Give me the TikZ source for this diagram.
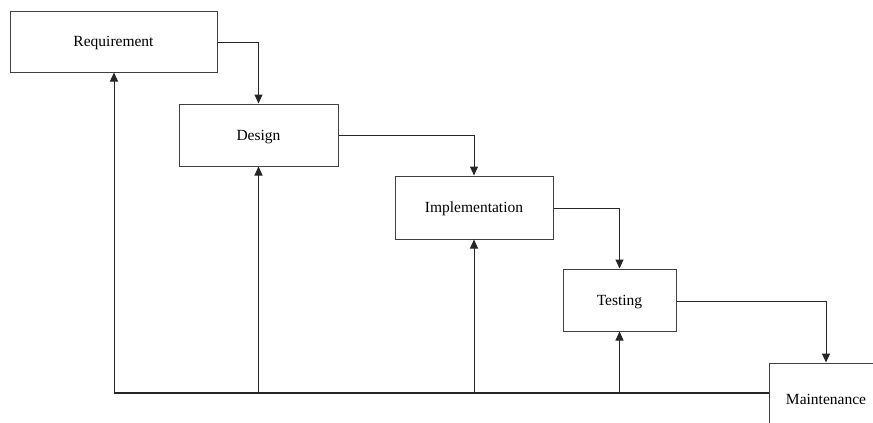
\documentclass[tikz,border=0pt]{standalone}
\usepackage{fontspec}
\setmainfont{Liberation Serif}
\usetikzlibrary{arrows.meta}
\begin{document}
\begin{tikzpicture}[x=1pt,y=-1pt,
  phase/.style={draw=black!75, line width=1pt, fill=white, inner sep=0pt,
    text depth=0pt, font=\fontsize{15.5}{18}\selectfont},
  link/.style={draw=black!85, line width=1pt, -{Triangle[length=9pt,width=8pt]}},
  rail/.style={draw=black!85, line width=1.5pt}]
\useasboundingbox (0,0) rectangle (873,423);
\fill[white] (0,0) rectangle (873,423);

\node[phase, minimum width=207pt, minimum height=61pt] (req)  at (113.5,41.5) {Requirement};
\node[phase, minimum width=159pt, minimum height=62pt] (des)  at (258.5,135) {Design};
\node[phase, minimum width=158pt, minimum height=63pt] (imp)  at (474,207.5) {Implementation};
\node[phase, minimum width=113pt, minimum height=62pt] (tst)  at (619.5,300) {Testing};
\node[phase, minimum width=114pt, minimum height=72pt] (mnt)  at (826,399) {Maintenance};

% forward flow
\draw[link] (req.east |- 0,42) -| (des.north);
\draw[link] (des.east |- 0,135) -| (imp.north);
\draw[link] (imp.east |- 0,208) -| (tst.north);
\draw[link] (tst.east |- 0,301) -| (mnt.north);

% feedback rail
\coordinate (rl) at (114,393);
\coordinate (rr) at (mnt.west |- 0,393);
\draw[rail] (rr) -- (rl);
\draw[link] (rl) -- (req.south -| rl);
\draw[link] (des.south |- rl) -- (des.south);
\draw[link] (imp.south |- rl) -- (imp.south);
\draw[link] (tst.south |- rl) -- (tst.south);
\end{tikzpicture}
\end{document}
